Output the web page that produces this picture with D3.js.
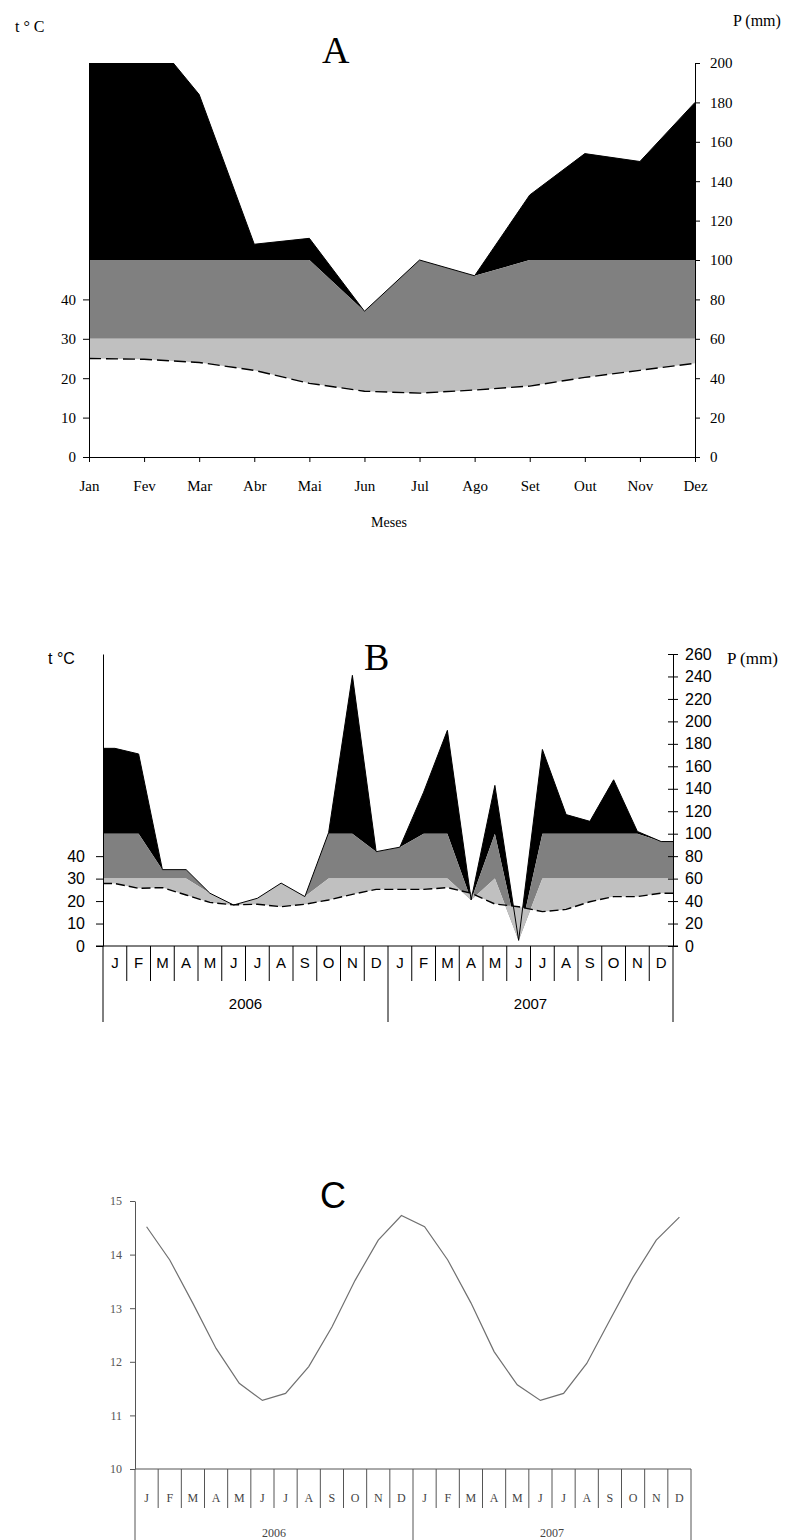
<!DOCTYPE html>
<html>
<head>
<meta charset="utf-8">
<script src="https://cdn.jsdelivr.net/npm/d3@7"></script>
<style>body{margin:0;background:#fff}</style>
</head>
<body>
<svg id="chart" width="797" height="1540"></svg>
<script>
// A - mean climate diagram (precip in mm, temp in C)
const monthsA = ['Jan','Fev','Mar','Abr','Mai','Jun','Jul','Ago','Set','Out','Nov','Dez'];
const precipA = [225, 218, 184, 108, 111, 74, 100, 92, 133, 154, 150, 180];
const tempA = [25, 24.8, 24, 22, 18.7, 16.7, 16.2, 17, 18, 20.2, 22, 23.8];

// B - monthly 2006-2007
const monthsB = ['J','F','M','A','M','J','J','A','S','O','N','D'];
const yearsB = ['2006','2007'];
const precipB = [176, 171, 68, 68, 47, 36.5, 42.5, 56, 44, 101, 241, 84,
                 88, 137, 192, 41, 143, 5, 175, 117, 111, 148, 102, 93];
const tempB = [27.8, 25.7, 26, 22.7, 19.4, 18.3, 18.6, 17.5, 18.6, 20.5, 23, 25.2,
               25.2, 25.2, 26, 23.5, 18.7, 17.5, 15.3, 16.3, 19.7, 22, 22, 23.5];

// C - single series
const valuesC = [14.52, 13.9, 13.09, 12.25, 11.6, 11.28, 11.41, 11.91, 12.65, 13.52, 14.27, 14.73,
                 14.52, 13.9, 13.1, 12.19, 11.57, 11.28, 11.41, 11.97, 12.78, 13.58, 14.27, 14.7];
const ticksC = [10, 11, 12, 13, 14, 15];

const svg = d3.select('#chart');
const serif = "'Liberation Serif', 'Times New Roman', serif";
const sans = "'Liberation Sans', Arial, sans-serif";

function drawBands(g, pts, yP, yT, dash) {
	let area = (lo, hi) => d3.area().x(d => d.x).y0(lo).y1(hi);
	g.append('path').datum(pts).attr('fill', '#000')
		.attr('d', area(d => yP(Math.min(d.p, 100)), d => yP(d.p)));
	g.append('path').datum(pts).attr('fill', '#808080')
		.attr('d', area(d => yP(Math.min(d.p, 60)), d => yP(Math.min(d.p, 100))));
	g.append('path').datum(pts).attr('fill', '#c0c0c0')
		.attr('d', area(d => yT(d.t), d => yP(Math.min(d.p, 60))));
	g.append('path').datum(pts).attr('fill', 'none').attr('stroke', '#000').attr('stroke-width', 1)
		.attr('d', d3.line().x(d => d.x).y(d => yP(d.p)));
	g.append('path').datum(pts).attr('fill', 'none').attr('stroke', '#000').attr('stroke-width', 1.4)
		.attr('stroke-dasharray', dash)
		.attr('d', d3.line().x(d => d.x).y(d => yT(d.t)));
}

function fontOf(g, fam, size) {
	g.attr('font-family', fam).attr('font-size', size);
}

// ---------- A ----------
let xA = d3.scalePoint().domain(monthsA).range([89, 695]);
let yPA = d3.scaleLinear().domain([0, 200]).range([457, 63]);
let yTA = d3.scaleLinear().domain([0, 100]).range([457, 63]);

svg.append('clipPath').attr('id', 'clipA').append('rect')
	.attr('x', 89).attr('y', 63).attr('width', 606).attr('height', 394);

let gA = svg.append('g');
let ptsA = monthsA.map((m, i) => ({x: xA(m), p: precipA[i], t: tempA[i]}));
drawBands(gA.append('g').attr('clip-path', 'url(#clipA)'), ptsA, yPA, yTA, '12,5');

gA.append('g').attr('transform', 'translate(89,0)')
	.call(d3.axisLeft(yTA).tickValues([0, 10, 20, 30, 40]).tickSize(6).tickSizeOuter(0).tickPadding(7))
	.call(g => fontOf(g, serif, 15));
gA.append('g').attr('transform', 'translate(695,0)')
	.call(d3.axisRight(yPA).tickValues(d3.range(0, 201, 20)).tickSize(5).tickSizeOuter(0).tickPadding(10))
	.call(g => fontOf(g, serif, 15));
gA.append('g').attr('transform', 'translate(0,457)')
	.call(d3.axisBottom(xA).tickSize(5).tickSizeOuter(0).tickPadding(18))
	.call(g => fontOf(g, serif, 15));

gA.append('text').attr('x', 15).attr('y', 32).attr('font-family', serif).attr('font-size', 16).text('t ° C');
gA.append('text').attr('x', 322).attr('y', 63).attr('font-family', serif).attr('font-size', 38).text('A');
gA.append('text').attr('x', 733).attr('y', 26).attr('font-family', serif).attr('font-size', 16).text('P (mm)');
gA.append('text').attr('x', 389).attr('y', 527).attr('text-anchor', 'middle')
	.attr('font-family', serif).attr('font-size', 14).text('Meses');

// ---------- B ----------
let idxB = d3.range(precipB.length);
let xB = d3.scaleBand().domain(idxB).range([103, 673]);
let yPB = d3.scaleLinear().domain([0, 260]).range([946, 654]);
let yTB = d3.scaleLinear().domain([0, 130]).range([946, 654]);

let gB = svg.append('g');
let ptsB = idxB.map(i => ({x: xB(i) + xB.bandwidth() / 2, p: precipB[i], t: tempB[i]}));
// excel stretches the first and last value to the plot edges
ptsB.unshift({x: xB.range()[0], p: precipB[0], t: tempB[0]});
ptsB.push({x: xB.range()[1], p: precipB[precipB.length - 1], t: tempB[tempB.length - 1]});
drawBands(gB.append('g'), ptsB, yPB, yTB, '9,4');

gB.append('g').attr('transform', 'translate(103,0)')
	.call(d3.axisLeft(yTB).tickValues([0, 10, 20, 30, 40]).tickSize(7).tickSizeOuter(0).tickPadding(11))
	.call(g => fontOf(g, sans, 16));
gB.append('g').attr('transform', 'translate(673,0)')
	.call(d3.axisRight(yPB).tickValues(d3.range(0, 261, 20)).tickSize(5).tickSizeOuter(0).tickPadding(7))
	.call(g => fontOf(g, sans, 16))
	.call(g => g.selectAll('.tick line').attr('x1', -5));

let axB = gB.append('g').attr('stroke', '#000').attr('stroke-width', 1);
axB.append('line').attr('x1', 96).attr('x2', 678).attr('y1', 946).attr('y2', 946);
axB.selectAll('line.sep').data(d3.range(precipB.length + 1)).join('line')
	.attr('x1', i => xB.range()[0] + i * xB.step()).attr('x2', i => xB.range()[0] + i * xB.step())
	.attr('y1', 946).attr('y2', i => i % 12 === 0 ? 1022 : 981);
gB.selectAll('text.mb').data(idxB).join('text')
	.attr('x', i => xB(i) + xB.bandwidth() / 2).attr('y', 968).attr('text-anchor', 'middle')
	.attr('font-family', sans).attr('font-size', 15).text(i => monthsB[i % 12]);
gB.selectAll('text.yb').data(yearsB).join('text')
	.attr('x', (d, k) => xB(k * 12) + xB.step() * 6).attr('y', 1009).attr('text-anchor', 'middle')
	.attr('font-family', sans).attr('font-size', 15).text(d => d);

gB.append('text').attr('x', 48).attr('y', 664).attr('font-family', sans).attr('font-size', 16).text('t °C');
gB.append('text').attr('x', 364).attr('y', 670).attr('font-family', serif).attr('font-size', 38).text('B');
gB.append('text').attr('x', 727).attr('y', 664).attr('font-family', serif).attr('font-size', 17).text('P (mm)');

// ---------- C ----------
let idxC = d3.range(valuesC.length);
let xC = d3.scaleBand().domain(idxC).range([135, 691]);
let yC = d3.scaleLinear().domain([10, 15]).range([1469, 1201]);
let gC = svg.append('g');

gC.append('path').datum(idxC).attr('fill', 'none').attr('stroke', '#707070').attr('stroke-width', 1.2)
	.attr('d', d3.line().x(i => xC(i) + xC.bandwidth() / 2).y(i => yC(valuesC[i])));

gC.append('g').attr('transform', 'translate(135,0)')
	.call(d3.axisLeft(yC).tickValues(ticksC).tickFormat(d3.format('d')).tickSize(5).tickSizeOuter(0).tickPadding(8))
	.call(g => fontOf(g, serif, 12))
	.call(g => g.attr('color', '#555'));

let axC = gC.append('g').attr('stroke', '#555').attr('stroke-width', 1);
axC.append('line').attr('x1', 135).attr('x2', 691).attr('y1', 1469).attr('y2', 1469);
axC.selectAll('line.sep').data(d3.range(valuesC.length + 1)).join('line')
	.attr('x1', i => xC.range()[0] + i * xC.step()).attr('x2', i => xC.range()[0] + i * xC.step())
	.attr('y1', 1469).attr('y2', i => i % 12 === 0 ? 1540 : 1508);
gC.selectAll('text.mc').data(idxC).join('text')
	.attr('x', i => xC(i) + xC.bandwidth() / 2).attr('y', 1502).attr('text-anchor', 'middle')
	.attr('fill', '#444').attr('font-family', serif).attr('font-size', 12).text(i => monthsB[i % 12]);
gC.selectAll('text.yc').data(yearsB).join('text')
	.attr('x', (d, k) => xC(k * 12) + xC.step() * 6).attr('y', 1537).attr('text-anchor', 'middle')
	.attr('fill', '#444').attr('font-family', serif).attr('font-size', 12).text(d => d);

gC.append('text').attr('x', 320).attr('y', 1208).attr('font-family', sans).attr('font-size', 36).text('C');
</script>
</body>
</html>
